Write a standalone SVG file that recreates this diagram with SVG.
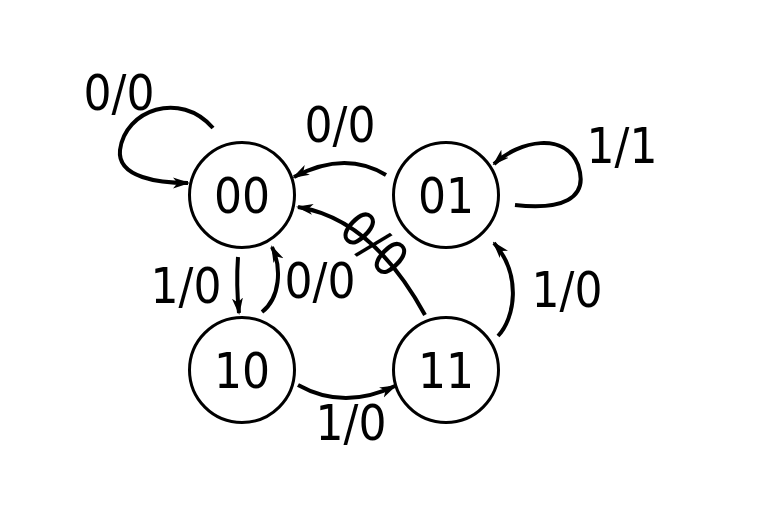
<svg xmlns="http://www.w3.org/2000/svg" width="757" height="528" viewBox="0 0 757 528">
<style>
.node circle{fill:#fff;stroke:#000;stroke-width:3}
text{font-family:"DejaVu Sans Condensed","DejaVu Sans",sans-serif;font-stretch:condensed;font-size:49px;fill:#000;text-anchor:middle}
.edge{fill:none;stroke:#000;stroke-width:4;marker-end:url(#arr)}
</style>
<defs>
<marker id="arr" markerUnits="userSpaceOnUse" viewBox="0 -6 17 12" markerWidth="17" markerHeight="12" refX="15" refY="0" orient="auto">
<path d="M17,0 L0,-5.5 L4.5,0 L0,5.5 z" fill="#000"/>
</marker>
</defs>
<rect width="757" height="528" fill="#fff"/>
<g id="connectors">
<path class="edge" d="M213,128 C180,90 125,110 120,150 C117,178 160,183 188,183"/>
<path class="edge" d="M386,175 Q345,150 294,177"/>
<path class="edge" d="M425,315 Q372.5,219 298,207"/>
<path class="edge" d="M515,205 C560,210 590,200 578,165 C565,132 520,140 494,164"/>
<path class="edge" d="M498,336 C515,318 522,275 494,243"/>
<path class="edge" d="M238,257 Q236,285 239,313"/>
<path class="edge" d="M262,312 C280,298 282,268 272,247"/>
<path class="edge" d="M298,385 Q343.5,410.5 395,386"/>
</g>
<g id="labels">
<text x="119" y="110">0/0</text>
<text x="340" y="142">0/0</text>
<text x="622" y="163">1/1</text>
<text x="567" y="307">1/0</text>
<text x="186" y="303">1/0</text>
<text x="320" y="298">0/0</text>
<text x="351" y="440">1/0</text>
<text x="375" y="261" transform="rotate(43.5 375 243)">0/0</text>
</g>
<g id="node-00" class="node"><circle cx="242" cy="195" r="52.5"/><text x="242" y="213">00</text></g>
<g id="node-01" class="node"><circle cx="446" cy="195" r="52.5"/><text x="446" y="213">01</text></g>
<g id="node-10" class="node"><circle cx="242" cy="370" r="52.5"/><text x="242" y="388">10</text></g>
<g id="node-11" class="node"><circle cx="446" cy="370" r="52.5"/><text x="446" y="388">11</text></g>
</svg>
